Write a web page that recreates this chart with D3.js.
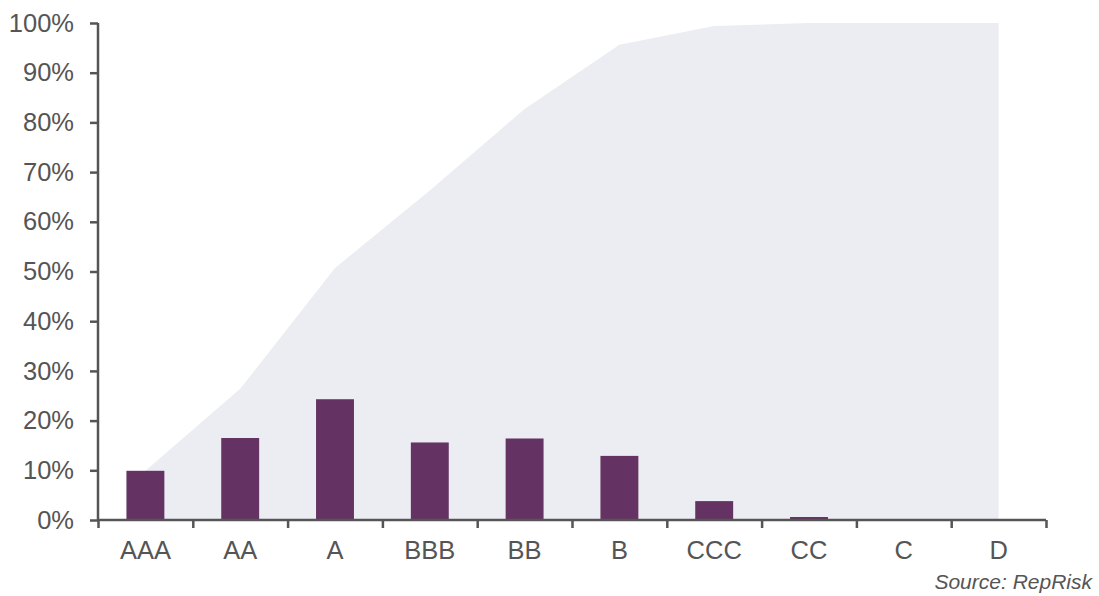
<!DOCTYPE html>
<html>
<head>
<meta charset="utf-8">
<script src="https://cdn.jsdelivr.net/npm/d3@7"></script>
<style>
  body { margin: 0; background: #fff; }
  svg text { font-family: "Liberation Sans", Arial, sans-serif; fill: #555; }
</style>
</head>
<body>
<svg width="1099" height="596"></svg>
<script>
var categories = ['AAA', 'AA', 'A', 'BBB', 'BB', 'B', 'CCC', 'CC', 'C', 'D'];
var shares = [9.9, 16.5, 24.3, 15.6, 16.4, 12.9, 3.8, 0.6, 0, 0];
var cumulative = [9.9, 26.4, 50.7, 66.3, 82.7, 95.6, 99.4, 100, 100, 100];
var yTicks = [0, 10, 20, 30, 40, 50, 60, 70, 80, 90, 100];

var svg = d3.select('svg'),
    margin = {top: 23, right: 53, bottom: 76, left: 98},
    width = 1099 - margin.left - margin.right,
    height = 596 - margin.top - margin.bottom;

var g = svg.append('g')
    .attr('transform', 'translate(' + margin.left + ',' + margin.top + ')');

var x = d3.scaleBand()
    .domain(categories)
    .range([0, width])
    .paddingInner(0.6)
    .paddingOuter(0.3);

var xc = function(d) { return x(d) + x.bandwidth() / 2; };

var y = d3.scaleLinear()
    .domain([0, 100])
    .range([height, 0]);

// cumulative share, light shaded area behind the bars
var area = d3.area()
    .x(function(d, i) { return xc(categories[i]); })
    .y0(height)
    .y1(function(d) { return y(d); });

g.append('path')
  .datum(cumulative)
  .attr('d', area)
  .attr('fill', '#ecedf3');

g.selectAll('.bar')
  .data(shares)
  .enter().append('rect')
  .attr('class', 'bar')
  .attr('x', function(d, i) { return x(categories[i]); })
  .attr('y', function(d) { return y(d); })
  .attr('width', x.bandwidth())
  .attr('height', function(d) { return height - y(d); })
  .attr('fill', '#643263');

// y axis
var yAxis = g.append('g')
    .call(d3.axisLeft(y).tickValues(yTicks).tickSize(8).tickPadding(16)
      .tickFormat(function(d) { return d + '%'; }));

// x axis with ticks on the band edges
var step = x.step();
var edges = d3.range(categories.length + 1).map(function(i) { return i * step; });
var xEdge = d3.scaleLinear().domain([0, width]).range([0, width]);

var xAxis = g.append('g')
    .attr('transform', 'translate(0,' + height + ')')
    .call(d3.axisBottom(xEdge).tickValues(edges).tickSize(8).tickFormat(''));

g.append('g')
  .selectAll('text')
  .data(categories)
  .enter().append('text')
  .attr('x', function(d) { return xc(d); })
  .attr('y', height + 39)
  .attr('text-anchor', 'middle')
  .style('font-size', '25.5px')
  .text(function(d) { return d; });

[yAxis, xAxis].forEach(function(a) {
  a.select('.domain').attr('stroke', '#555').attr('stroke-width', 2.5);
  a.selectAll('.tick line').attr('stroke', '#555').attr('stroke-width', 2.5);
});
xAxis.select('.domain').attr('d', 'M0,0H' + width);
yAxis.select('.domain').attr('d', 'M0,' + height + 'V0');
yAxis.selectAll('.tick text')
  .style('font-size', '25.5px')
  .style('fill', '#555');

svg.append('text')
  .attr('x', 1092)
  .attr('y', 589)
  .attr('text-anchor', 'end')
  .style('font-size', '21px')
  .style('font-style', 'italic')
  .text('Source: RepRisk');
</script>
</body>
</html>
